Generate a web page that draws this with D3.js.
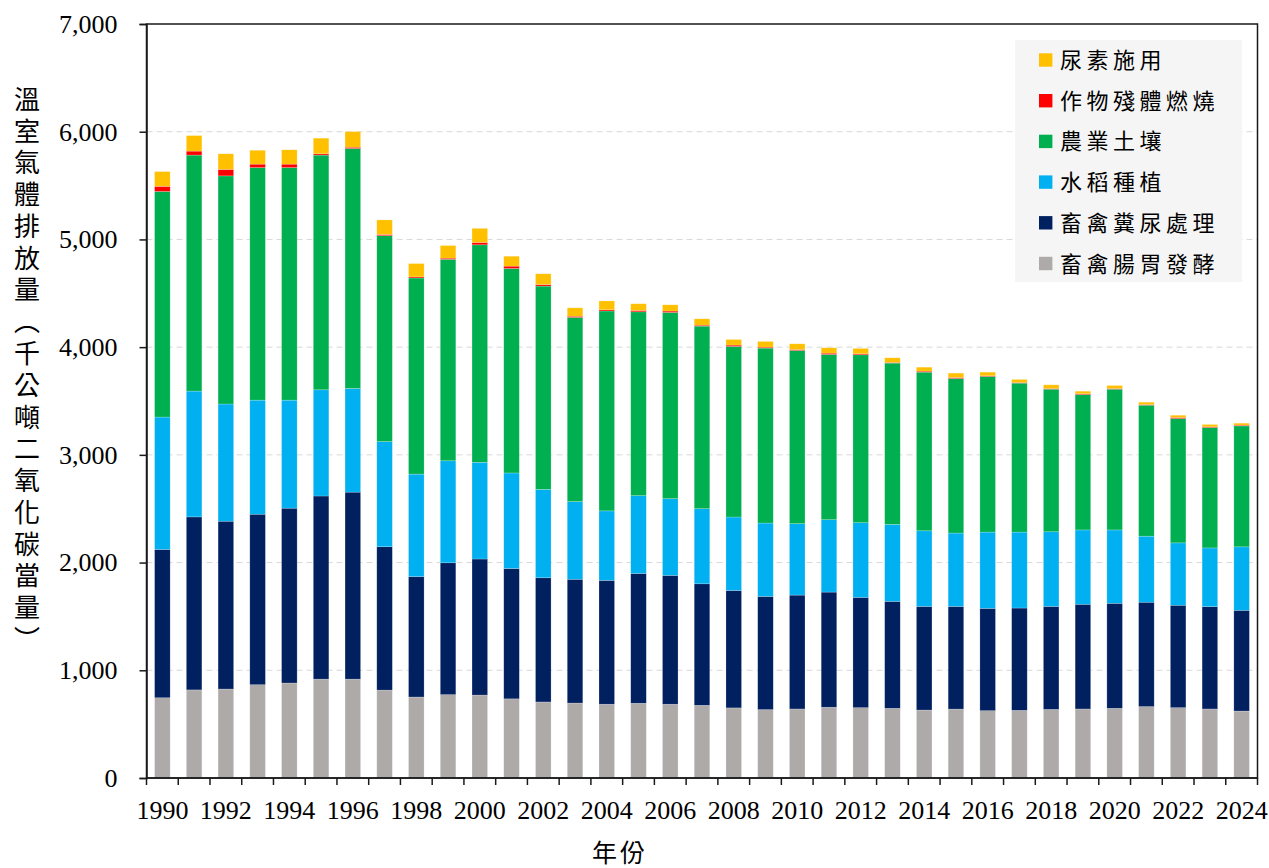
<!DOCTYPE html>
<html lang="zh-Hant">
<head>
<meta charset="UTF-8">
<title>農業部門溫室氣體排放量</title>
<script src="https://d3js.org/d3.v7.min.js"></script>
<style>
  body { margin: 0; background: #fff; }
  svg { display: block; }
</style>
</head>
<body>
<div id="chart"></div>
<script>
// years on the x axis
var years = [1990, 1991, 1992, 1993, 1994, 1995, 1996, 1997, 1998, 1999,
  2000, 2001, 2002, 2003, 2004, 2005, 2006, 2007, 2008, 2009,
  2010, 2011, 2012, 2013, 2014, 2015, 2016, 2017, 2018, 2019,
  2020, 2021, 2022, 2023, 2024];

// series, bottom of the stack first (千公噸二氧化碳當量)
var enteric = [745, 818, 826, 866, 882, 918, 918, 816, 752, 774,
  770, 735, 706, 696, 685, 694, 685, 675, 651, 635,
  641, 657, 653, 647, 631, 640, 625, 628, 637, 641,
  647, 663, 653, 641, 622];
var manure = [1377, 1606, 1558, 1583, 1623, 1700, 1736, 1331, 1118, 1224,
  1263, 1210, 1153, 1149, 1150, 1205, 1196, 1128, 1090, 1051,
  1057, 1069, 1024, 993, 962, 953, 950, 950, 956, 972,
  975, 969, 951, 950, 935];
var rice = [1229, 1168, 1088, 1059, 1003, 986, 963, 976, 951, 947,
  898, 887, 820, 721, 645, 722, 712, 697, 682, 681,
  663, 672, 693, 714, 702, 681, 708, 705, 693, 690,
  681, 613, 579, 545, 589];
var soils = [2094, 2191, 2118, 2159, 2159, 2179, 2227, 1912, 1821, 1870,
  2019, 1898, 1888, 1710, 1856, 1707, 1729, 1695, 1583, 1624,
  1608, 1534, 1559, 1498, 1473, 1435, 1445, 1383, 1324, 1257,
  1307, 1216, 1154, 1118, 1123];
var burning = [48, 37, 60, 32, 32, 12, 12, 11, 10, 11,
  22, 22, 14, 11, 11, 13, 13, 9, 13, 9,
  9, 12, 9, 6, 9, 9, 6, 6, 6, 7,
  6, 6, 10, 6, 7];
var urea = [137, 144, 145, 129, 133, 145, 145, 135, 124, 117,
  131, 92, 100, 78, 82, 62, 58, 59, 52, 53,
  53, 50, 50, 43, 37, 41, 34, 28, 34, 24,
  28, 22, 21, 22, 18];

var seriesNames = ["畜禽腸胃發酵", "畜禽糞尿處理", "水稻種植", "農業土壤", "作物殘體燃燒", "尿素施用"];
var seriesValues = [enteric, manure, rice, soils, burning, urea];
var seriesColors = ["#AEAAAA", "#002060", "#00B0F0", "#00B050", "#FF0000", "#FFC000"];

var yTicks = [0, 1000, 2000, 3000, 4000, 5000, 6000, 7000];

var width = 1269, height = 868;
var margin = { top: 24, right: 11.5, bottom: 90, left: 146.5 };
var plotW = width - margin.left - margin.right;
var plotH = height - margin.top - margin.bottom;

var svg = d3.select("#chart").append("svg")
    .attr("width", width)
    .attr("height", height);

var serif = "'Liberation Serif', 'Times New Roman', serif";
var cjk = "'Noto Sans CJK TC', 'Noto Sans CJK SC', sans-serif";

// table for the stack
var rows = years.map(function(y, i) {
  var r = { year: y };
  seriesNames.forEach(function(n, k) { r[n] = seriesValues[k][i]; });
  return r;
});
var stacked = d3.stack().keys(seriesNames)(rows);

var x = d3.scaleBand().domain(years).range([0, plotW]).paddingInner(0.51).paddingOuter(0.255);
var y = d3.scaleLinear().domain([0, 7000]).range([plotH, 0]);

var g = svg.append("g").attr("transform", "translate(" + margin.left + "," + margin.top + ")");

// dashed gridlines
g.append("g")
  .selectAll("line")
  .data(yTicks.filter(function(t) { return t > 0 && t < 7000; }))
  .enter().append("line")
    .attr("x1", 0).attr("x2", plotW)
    .attr("y1", function(d) { return y(d); })
    .attr("y2", function(d) { return y(d); })
    .attr("stroke", "#d9d9d9")
    .attr("stroke-width", 1)
    .attr("stroke-dasharray", "6,4");

// bars
g.append("g")
  .selectAll("g")
  .data(stacked)
  .enter().append("g")
    .attr("fill", function(d, i) { return seriesColors[i]; })
  .selectAll("rect")
  .data(function(d) { return d; })
  .enter().append("rect")
    .attr("x", function(d) { return x(d.data.year); })
    .attr("width", x.bandwidth())
    .attr("y", function(d) { return y(d[1]); })
    .attr("height", function(d) { return y(d[0]) - y(d[1]); })
    .attr("stroke", "#ffffff")
    .attr("stroke-opacity", 0.35)
    .attr("stroke-width", 0.6);

// frame around the plot
g.append("rect")
  .attr("x", 0).attr("y", 0)
  .attr("width", plotW).attr("height", plotH)
  .attr("fill", "none")
  .attr("stroke", "#1a1a1a")
  .attr("stroke-width", 1.5);

// y axis
var yAxis = g.append("g")
  .call(d3.axisLeft(y).tickValues(yTicks).tickSize(7).tickPadding(22).tickFormat(d3.format(",")));
yAxis.select(".domain").attr("stroke", "#1a1a1a").attr("stroke-width", 1.5);
yAxis.selectAll(".tick line").attr("stroke", "#1a1a1a").attr("stroke-width", 1.5);
yAxis.selectAll("text")
  .attr("font-family", serif)
  .attr("font-size", 26)
  .attr("fill", "#000");

// x axis: ticks on the band edges, labels every second year
var xa = g.append("g").attr("transform", "translate(0," + plotH + ")");
var step = x.step();
var edges = d3.range(years.length + 1).map(function(i) { return x(years[0]) - x.paddingOuter() * step + i * step; });
xa.append("line")
  .attr("x1", 0).attr("x2", plotW)
  .attr("stroke", "#1a1a1a").attr("stroke-width", 1.5);
xa.selectAll("line.tk")
  .data(edges)
  .enter().append("line")
    .attr("class", "tk")
    .attr("x1", function(d) { return d; }).attr("x2", function(d) { return d; })
    .attr("y1", 0).attr("y2", 7)
    .attr("stroke", "#1a1a1a").attr("stroke-width", 1.5);
xa.selectAll("text")
  .data(years.filter(function(d) { return d % 2 === 0; }))
  .enter().append("text")
    .attr("x", function(d) { return x(d) + x.bandwidth() / 2; })
    .attr("y", 41)
    .attr("text-anchor", "middle")
    .attr("font-family", serif)
    .attr("font-size", 26)
    .attr("fill", "#000")
    .text(function(d) { return d; });

// axis titles
svg.append("text")
  .attr("x", 620)
  .attr("y", 862)
  .attr("text-anchor", "middle")
  .attr("font-family", cjk)
  .attr("font-size", 25)
  .attr("letter-spacing", 3)
  .attr("fill", "#000")
  .text("年份");

svg.append("text")
  .attr("x", 27)
  .attr("y", 369)
  .attr("text-anchor", "middle")
  .style("writing-mode", "vertical-rl")
  .attr("font-family", cjk)
  .attr("font-size", 26)
  .attr("textLength", 566)
  .attr("lengthAdjust", "spacing")
  .attr("fill", "#000")
  .text("溫室氣體排放量（千公噸二氧化碳當量）");

// legend, top entry = top of the stack
var legend = svg.append("g").attr("transform", "translate(1015,40)");
legend.append("rect")
  .attr("width", 227).attr("height", 242)
  .attr("fill", "#f5f5f5");
var order = d3.range(seriesNames.length).reverse();
var item = legend.selectAll("g.item")
  .data(order)
  .enter().append("g")
    .attr("class", "item")
    .attr("transform", function(d, i) { return "translate(0," + (20 + i * 40.7) + ")"; });
item.append("rect")
  .attr("x", 24).attr("y", -6.7)
  .attr("width", 13.4).attr("height", 13.4)
  .attr("fill", function(d) { return seriesColors[d]; });
item.append("text")
  .attr("x", 45)
  .attr("y", 8)
  .attr("font-family", cjk)
  .attr("font-size", 22)
  .attr("letter-spacing", 4.5)
  .attr("fill", "#000")
  .text(function(d) { return seriesNames[d]; });
</script>
</body>
</html>
